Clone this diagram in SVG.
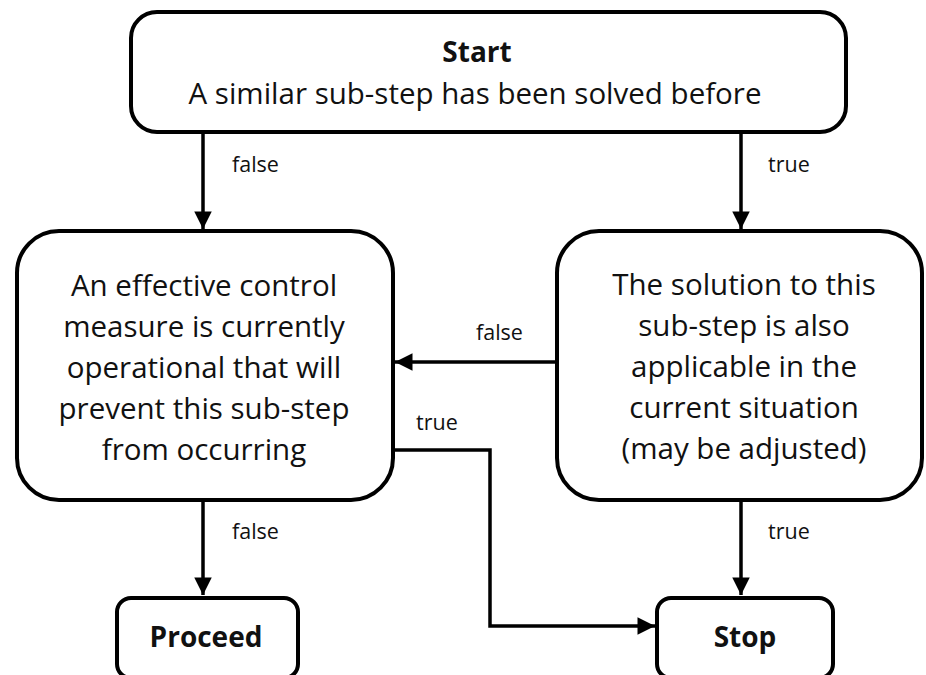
<svg xmlns="http://www.w3.org/2000/svg" width="926" height="675" viewBox="0 0 926 675">
<style>
.box{fill:#fff;stroke:#000;stroke-width:4}
.t{font-family:"Open Sans","Noto Sans",sans-serif;font-size:29.5px;fill:#111;text-anchor:middle}
.b{font-weight:bold;font-size:28px}
.lbl{font-family:"Open Sans","Noto Sans",sans-serif;font-size:21.5px;fill:#111}
.c{fill:none;stroke:#000;stroke-width:3.5}
</style>
<defs>
<marker id="ah" viewBox="0 0 10 10" refX="10" refY="5" markerWidth="6" markerHeight="5" markerUnits="strokeWidth" orient="auto">
<path d="M0,0 L10,5 L0,10 z" fill="#000"/>
</marker>
</defs>
<rect width="926" height="675" fill="#fff"/>
<g id="connectors">
<path class="c" d="M203,132 V229" marker-end="url(#ah)"/>
<path class="c" d="M741,132 V229" marker-end="url(#ah)"/>
<path class="c" d="M557,362 H395" marker-end="url(#ah)"/>
<path class="c" d="M393,450 H490 V626 H655" marker-end="url(#ah)"/>
<path class="c" d="M203,500 V595" marker-end="url(#ah)"/>
<path class="c" d="M741,500 V595" marker-end="url(#ah)"/>
<text class="lbl" x="232" y="172">false</text>
<text class="lbl" x="768" y="172">true</text>
<text class="lbl" x="476" y="340">false</text>
<text class="lbl" x="416" y="430">true</text>
<text class="lbl" x="232" y="539">false</text>
<text class="lbl" x="768" y="539">true</text>
</g>
<g id="start">
<rect class="box" x="131" y="12" width="715" height="120" rx="26"/>
<text class="t b" x="477" y="62">Start</text>
<text class="t" x="475" y="104">A similar sub-step has been solved before</text>
</g>
<g id="control">
<rect class="box" x="17" y="231" width="376" height="269" rx="42"/>
<text class="t" x="204" y="296">An effective control</text>
<text class="t" x="204" y="337">measure is currently</text>
<text class="t" x="204" y="378">operational that will</text>
<text class="t" x="204" y="419">prevent this sub-step</text>
<text class="t" x="204" y="460">from occurring</text>
</g>
<g id="solution">
<rect class="box" x="557" y="231" width="365" height="269" rx="42"/>
<text class="t" x="744" y="295">The solution to this</text>
<text class="t" x="744" y="336">sub-step is also</text>
<text class="t" x="744" y="377">applicable in the</text>
<text class="t" x="744" y="418">current situation</text>
<text class="t" x="744" y="459">(may be adjusted)</text>
</g>
<g id="proceed">
<rect class="box" x="117" y="598" width="181" height="80" rx="14"/>
<text class="t b" x="206" y="647">Proceed</text>
</g>
<g id="stop">
<rect class="box" x="657" y="598" width="176" height="80" rx="14"/>
<text class="t b" x="745" y="647">Stop</text>
</g>
</svg>
